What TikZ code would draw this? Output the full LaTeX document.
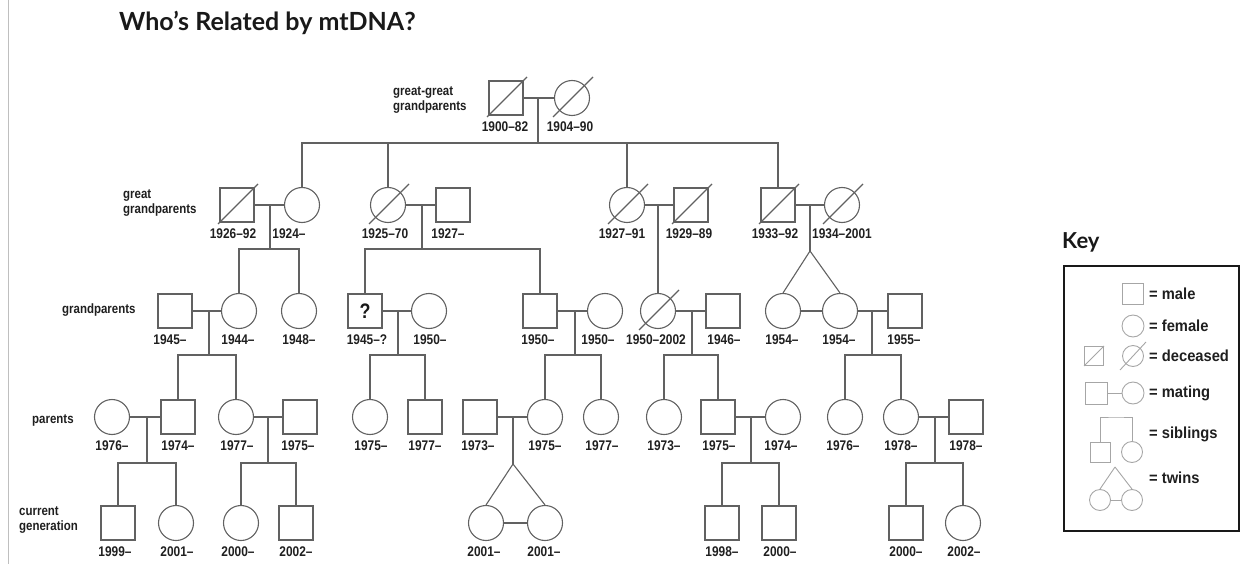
\documentclass[tikz,border=0pt]{standalone}
\usepackage{fontspec}
\setmainfont{Liberation Sans}
\newfontfamily\labf[FakeStretch=0.85]{Liberation Sans}
\newfontfamily\keyf[FakeStretch=0.92]{Liberation Sans}
\newfontfamily\titf{Lato}
\usetikzlibrary{calc}
\tikzset{
 ln/.style={draw=black!62, line width=1.1pt},
 male/.style={ln, rectangle, minimum size=34pt, inner sep=0pt},
 fem/.style={ln, circle, minimum size=35pt, inner sep=0pt},
 yr/.style={font=\labf\bfseries\fontsize{14}{16}\selectfont, text=black!88, inner sep=0pt},
 rowlab/.style={font=\labf\bfseries\fontsize{13.5}{15}\selectfont, align=left, anchor=west, inner sep=0pt, text=black!88},
 kg/.style={draw=black!35, line width=0.9pt},
 kmale/.style={kg, rectangle, inner sep=0pt},
 kfem/.style={kg, circle, inner sep=0pt},
 ktxt/.style={font=\keyf\bfseries\fontsize{16}{18}\selectfont, anchor=west, inner sep=0pt, text=black!88},
}
\newcommand\psn[6]{\node[#2] (#1) at (#3,#4) {}; \node[yr] (#1y) at (#6,#4+29) {#5};}
\newcommand\dcs[1]{\draw[ln] ($(#1.center)+(-19,19)$) -- ($(#1.center)+(21,-21)$);}
\begin{document}
\begin{tikzpicture}[x=1pt,y=-1pt]
\useasboundingbox (0,0) rectangle (1244,564);
\draw[black!25, line width=0.8pt] (8,0) coordinate (lt) -- (8,564) coordinate (lb);
\node[font=\titf\bfseries\fontsize{25}{30}\selectfont, anchor=west, inner sep=0pt, text=black!90] (title) at (119,23) {Who’s Related by mtDNA?};
% row labels
\node[rowlab] (r1) at (393,100) {great-great\\grandparents};
\node[rowlab] (r2) at (123,203) {great\\grandparents};
\node[rowlab] (r3) at (62,310) {grandparents};
\node[rowlab] (r4) at (32,420) {parents};
\node[rowlab] (r5) at (19,520) {current\\generation};
% generation 1
\psn{A}{male}{506}{98}{1900–82}{505}
\psn{B}{fem}{572}{98}{1904–90}{570}
\dcs{A}\dcs{B}
\draw[ln] (A) -- (B);
\coordinate (mA) at (538,98); \coordinate (sA) at (538,143);
\draw[ln] (mA) -- (sA);
% generation 2
\psn{C}{male}{237}{205}{1926–92}{233} \dcs{C}
\psn{D}{fem}{302}{205}{1924–}{289}
\psn{E}{fem}{388}{205}{1925–70}{385} \dcs{E}
\psn{F}{male}{453}{205}{1927–}{448}
\psn{G}{fem}{627}{205}{1927–91}{622} \dcs{G}
\psn{H}{male}{691}{205}{1929–89}{689} \dcs{H}
\psn{I}{male}{778}{205}{1933–92}{775} \dcs{I}
\psn{J}{fem}{842}{205}{1934–2001}{842} \dcs{J}
\draw[ln] (sA) -| (D.north);
\draw[ln] (sA) -| (E.north);
\draw[ln] (sA) -| (G.north);
\draw[ln] (sA) -| (I.north);
\draw[ln] (C) -- (D); \draw[ln] (E) -- (F); \draw[ln] (G) -- (H); \draw[ln] (I) -- (J);
\coordinate (mC) at (270,205); \coordinate (sC) at (270,249);
\coordinate (mE) at (422,205); \coordinate (sE) at (422,249);
\coordinate (mG) at (658,205);
\coordinate (mI) at (810,205); \coordinate (tI) at (810,251);
\draw[ln] (mC) -- (sC); \draw[ln] (mE) -- (sE); \draw[ln] (mI) -- (tI);
% generation 3
\psn{K}{male}{175}{311}{1945–}{170}
\psn{L}{fem}{239}{311}{1944–}{238}
\psn{M}{fem}{299}{311}{1948–}{299}
\psn{N}{male}{365}{311}{1945–?}{367}
\node[font=\labf\bfseries\fontsize{21}{22}\selectfont, text=black!90, inner sep=0pt] (Nq) at (N.center) {?};
\psn{O}{fem}{429}{311}{1950–}{430}
\psn{P}{male}{540}{311}{1950–}{538}
\psn{Q}{fem}{605}{311}{1950–}{598}
\psn{R}{fem}{658}{311}{1950–2002}{656} \dcs{R}
\psn{S}{male}{723}{311}{1946–}{724}
\psn{T}{fem}{783}{311}{1954–}{782}
\psn{U}{fem}{840}{311}{1954–}{839}
\psn{V}{male}{905}{311}{1955–}{904}
\draw[ln] (sC) -| (L.north); \draw[ln] (sC) -| (M.north);
\draw[ln] (sE) -| (N.north); \draw[ln] (sE) -| (P.north);
\draw[ln] (mG) -- (R.north);
\draw[ln] (tI) -- (T.north); \draw[ln] (tI) -- (U.north); \draw[ln] (T) -- (U);
\draw[ln] (K) -- (L); \draw[ln] (N) -- (O); \draw[ln] (P) -- (Q); \draw[ln] (R) -- (S); \draw[ln] (U) -- (V);
\coordinate (mK) at (209,311); \coordinate (sK) at (209,355);
\coordinate (mN) at (398,311); \coordinate (sN) at (398,355);
\coordinate (mP) at (575,311); \coordinate (sP) at (575,355);
\coordinate (mR) at (692,311); \coordinate (sR) at (692,355);
\coordinate (mU) at (872,311); \coordinate (sU) at (872,355);
\draw[ln] (mK) -- (sK); \draw[ln] (mN) -- (sN); \draw[ln] (mP) -- (sP); \draw[ln] (mR) -- (sR); \draw[ln] (mU) -- (sU);
% generation 4
\psn{W}{fem}{112}{417}{1976–}{112}
\psn{X}{male}{178}{417}{1974–}{178}
\psn{Y}{fem}{236}{417}{1977–}{237}
\psn{Z}{male}{300}{417}{1975–}{298}
\psn{AA}{fem}{370}{417}{1975–}{371}
\psn{AB}{male}{425}{417}{1977–}{425}
\psn{AC}{male}{480}{417}{1973–}{478}
\psn{AD}{fem}{545}{417}{1975–}{545}
\psn{AE}{fem}{601}{417}{1977–}{602}
\psn{AF}{fem}{664}{417}{1973–}{664}
\psn{AG}{male}{718}{417}{1975–}{719}
\psn{AH}{fem}{783}{417}{1974–}{781}
\psn{AI}{fem}{845}{417}{1976–}{843}
\psn{AJ}{fem}{901}{417}{1978–}{901}
\psn{AK}{male}{966}{417}{1978–}{966}
\draw[ln] (sK) -| (X.north); \draw[ln] (sK) -| (Y.north);
\draw[ln] (sN) -| (AA.north); \draw[ln] (sN) -| (AB.north);
\draw[ln] (sP) -| (AD.north); \draw[ln] (sP) -| (AE.north);
\draw[ln] (sR) -| (AF.north); \draw[ln] (sR) -| (AG.north);
\draw[ln] (sU) -| (AI.north); \draw[ln] (sU) -| (AJ.north);
\draw[ln] (W) -- (X); \draw[ln] (Y) -- (Z); \draw[ln] (AC) -- (AD); \draw[ln] (AG) -- (AH); \draw[ln] (AJ) -- (AK);
\coordinate (mW) at (147,417); \coordinate (sW) at (147,463);
\coordinate (mY) at (268,417); \coordinate (sY) at (268,463);
\coordinate (mAC) at (513,417); \coordinate (tAC) at (513,464);
\coordinate (mAG) at (751,417); \coordinate (sAG) at (751,463);
\coordinate (mAJ) at (935,417); \coordinate (sAJ) at (935,463);
\draw[ln] (mW) -- (sW); \draw[ln] (mY) -- (sY); \draw[ln] (mAC) -- (tAC); \draw[ln] (mAG) -- (sAG); \draw[ln] (mAJ) -- (sAJ);
% generation 5
\psn{BA}{male}{118}{523}{1999–}{115}
\psn{BB}{fem}{176}{523}{2001–}{177}
\psn{BC}{fem}{241}{523}{2000–}{238}
\psn{BD}{male}{296}{523}{2002–}{296}
\psn{BE}{fem}{486}{523}{2001–}{484}
\psn{BF}{fem}{545}{523}{2001–}{544}
\psn{BG}{male}{722}{523}{1998–}{722}
\psn{BH}{male}{779}{523}{2000–}{780}
\psn{BI}{male}{906}{523}{2000–}{906}
\psn{BJ}{fem}{963}{523}{2002–}{964}
\draw[ln] (sW) -| (BA.north); \draw[ln] (sW) -| (BB.north);
\draw[ln] (sY) -| (BC.north); \draw[ln] (sY) -| (BD.north);
\draw[ln] (tAC) -- (BE.north); \draw[ln] (tAC) -- (BF.north); \draw[ln] (BE) -- (BF);
\draw[ln] (sAG) -| (BG.north); \draw[ln] (sAG) -| (BH.north);
\draw[ln] (sAJ) -| (BI.north); \draw[ln] (sAJ) -| (BJ.north);
% key
\node[font=\titf\bfseries\fontsize{22}{26}\selectfont, anchor=west, inner sep=0pt, text=black!90] (keyt) at (1062,242) {Key};
\draw[black!90, line width=2.6pt] (1064,266) coordinate (kb1) rectangle (1239,531) coordinate (kb2);
\node[kmale, minimum size=21pt] (k1) at (1133,294) {};
\node[ktxt] (k1t) at (1149,294) {= male};
\node[kfem, minimum size=22pt] (k2) at (1133,326) {};
\node[ktxt] (k2t) at (1149,326) {= female};
\node[kmale, minimum size=19pt] (k3a) at (1094,356) {};
\draw[kg] ($(k3a.center)+(-10,10)$) -- ($(k3a.center)+(10,-10)$);
\node[kfem, minimum size=21pt] (k3b) at (1133,356) {};
\draw[kg] ($(k3b.center)+(-13,14)$) -- ($(k3b.center)+(13,-14)$);
\node[ktxt] (k3t) at (1149,356) {= deceased};
\node[kmale, minimum size=22pt] (k4a) at (1096,393) {};
\node[kfem, minimum size=22pt] (k4b) at (1133,393) {};
\draw[kg] (k4a) -- (k4b);
\node[ktxt] (k4t) at (1149,393) {= mating};
\node[kmale, minimum size=20pt] (k5a) at (1100,452) {};
\node[kfem, minimum size=21pt] (k5b) at (1132,452) {};
\coordinate (k5c) at (1116,417);
\draw[kg] (k5a.north) |- (k5c) -| (k5b.north);
\node[ktxt] (k5t) at (1149,434) {= siblings};
\coordinate (k6c) at (1115,467);
\node[kfem, minimum size=21pt] (k6a) at (1100,500) {};
\node[kfem, minimum size=21pt] (k6b) at (1132,500) {};
\draw[kg] (k6c) -- (k6a.north); \draw[kg] (k6c) -- (k6b.north); \draw[kg] (k6a) -- (k6b);
\node[ktxt] (k6t) at (1149,478) {= twins};
\end{tikzpicture}
\end{document}
